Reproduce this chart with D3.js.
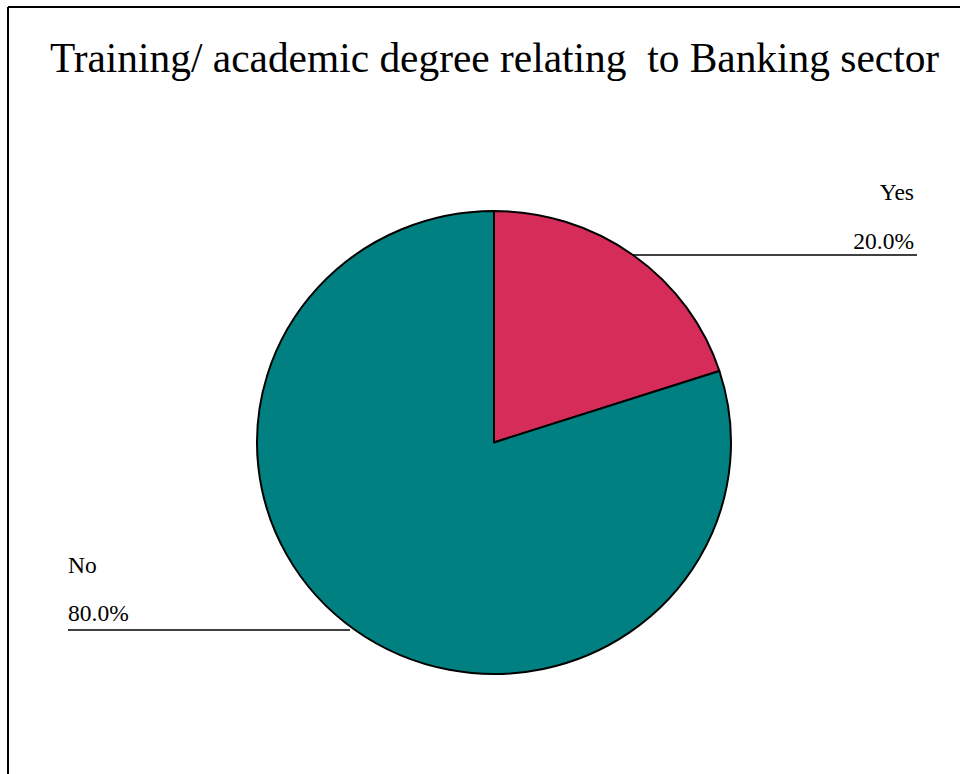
<!DOCTYPE html>
<html>
<head>
<meta charset="utf-8">
<script src="https://cdn.jsdelivr.net/npm/d3@7"></script>
<style>
  html, body { margin: 0; padding: 0; background: #fff; }
  svg { display: block; }
  text { font-family: "Liberation Serif", "Times New Roman", serif; fill: #000; }
</style>
</head>
<body>
<svg id="chart" width="960" height="774"></svg>
<script>
// Survey answers and their shares
const categories = ["Yes", "No"];
const values = [20.0, 80.0];
const colors = ["#D62C5A", "#008080"];
const titleText = "Training/ academic degree relating\u00a0\u00a0to Banking sector";

const svg = d3.select("#chart");
const W = 960, H = 774;

// Frame (top and left edges visible)
svg.append("line").attr("x1", 8).attr("y1", 7).attr("x2", W).attr("y2", 7)
  .attr("stroke", "#000").attr("stroke-width", 2);
svg.append("line").attr("x1", 8).attr("y1", 7).attr("x2", 8).attr("y2", H)
  .attr("stroke", "#000").attr("stroke-width", 2);

// Title
svg.append("text")
  .attr("x", 494.5).attr("y", 72)
  .attr("text-anchor", "middle")
  .style("font-size", "41.4px")
  .text(titleText);

// Pie geometry
const cx = 494, cy = 442.5, rx = 237, ry = 231.5;
const pie = d3.pie().sort(null).value(d => d.value);
const arcs = pie(categories.map((c, i) => ({ name: c, value: values[i], color: colors[i] })));
const arc = d3.arc().innerRadius(0).outerRadius(rx);

const g = svg.append("g")
  .attr("transform", `translate(${cx},${cy}) scale(1,${ry / rx})`);

g.selectAll("path.slice")
  .data(arcs)
  .join("path")
  .attr("class", "slice")
  .attr("d", arc)
  .attr("fill", d => d.data.color)
  .attr("stroke", "#000")
  .attr("stroke-width", 2)
  .attr("stroke-linejoin", "round")
  .attr("vector-effect", "non-scaling-stroke");

// Label layout: leader line drawn horizontally from the slice edge to the label
const fmt = d => d3.format(".1f")(d) + "%";
const labelSpec = {
  Yes: { lineY: 255, xStart: 632, xEnd: 917, anchor: "end", textX: 914, nameY: 200, valY: 249 },
  No:  { lineY: 630, xStart: 68,  xEnd: 350, anchor: "start", textX: 68, nameY: 573, valY: 621 }
};

arcs.forEach(a => {
  const s = labelSpec[a.data.name];
  svg.append("line")
    .attr("x1", s.xStart).attr("y1", s.lineY)
    .attr("x2", s.xEnd).attr("y2", s.lineY)
    .attr("stroke", "#000").attr("stroke-width", 1.6);
  svg.append("text")
    .attr("x", s.textX).attr("y", s.nameY)
    .attr("text-anchor", s.anchor)
    .style("font-size", "23.5px")
    .text(a.data.name);
  svg.append("text")
    .attr("x", s.textX).attr("y", s.valY)
    .attr("text-anchor", s.anchor)
    .style("font-size", "23.5px")
    .text(fmt(a.data.value));
});
</script>
</body>
</html>
